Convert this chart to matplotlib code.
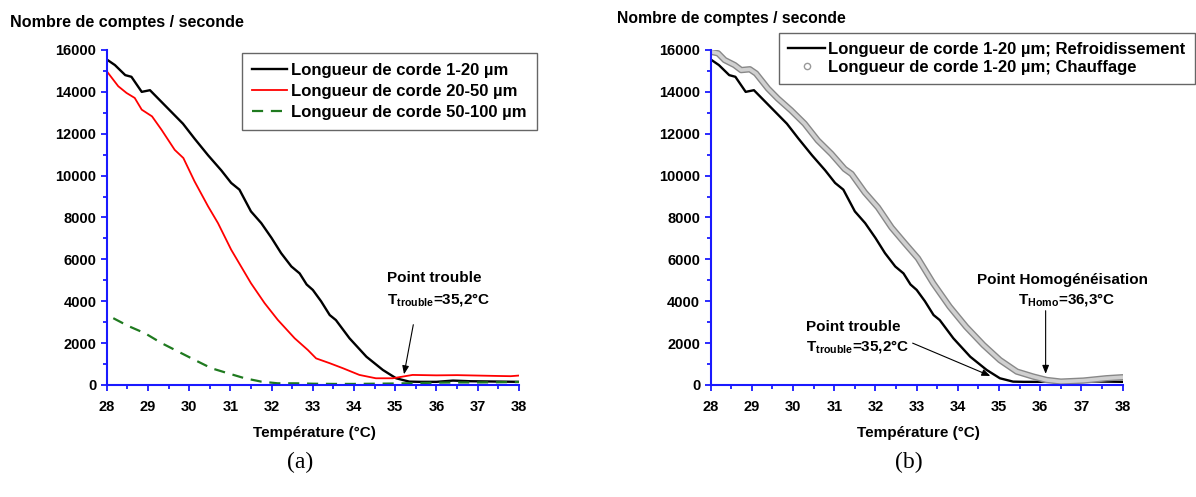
import matplotlib
matplotlib.use('Agg')
import matplotlib.pyplot as plt
from matplotlib.lines import Line2D
from matplotlib.ticker import MultipleLocator
import matplotlib.patheffects as pe

plt.rcParams['font.family'] = ['Liberation Sans', 'DejaVu Sans']
plt.rcParams['mathtext.fontset'] = 'custom'
plt.rcParams['mathtext.rm'] = 'Liberation Sans:bold'
plt.rcParams['mathtext.default'] = 'rm'

# Longueur de corde 1-20 um, refroidissement (meme courbe sur (a) et (b))
noir_t = [28.0, 28.2, 28.45, 28.6, 28.85, 29.05, 29.33, 29.57, 29.85, 30.13, 30.46, 30.78,
          31.02, 31.22, 31.5, 31.75, 32.0, 32.23, 32.48, 32.68, 32.85, 33.0, 33.2, 33.41,
          33.56, 33.89, 34.3, 34.7, 35.02, 35.34, 35.6, 36.0, 36.4, 36.8, 37.2, 37.6, 38.0]
noir_n = [15550, 15280, 14800, 14720, 14000, 14080, 13520, 13040, 12480, 11770, 10970, 10250,
          9650, 9330, 8290, 7730, 7020, 6300, 5660, 5330, 4800, 4540, 4000, 3340,
          3100, 2230, 1350, 716, 320, 160, 150, 150, 210, 180, 170, 160, 150]

# Longueur de corde 20-50 um
rouge_t = [28.0, 28.28, 28.48, 28.68, 28.85, 29.1, 29.33, 29.65, 29.86, 30.13, 30.46, 30.7,
           31.02, 31.26, 31.5, 31.83, 32.15, 32.56, 32.88, 33.08, 33.41, 33.73, 34.13, 34.53,
           34.94, 35.18, 35.42, 36.0, 36.5, 37.0, 37.5, 37.8, 38.0]
rouge_n = [14990, 14270, 13950, 13710, 13150, 12830, 12190, 11230, 10840, 9730, 8530, 7730,
           6460, 5660, 4860, 3910, 3110, 2230, 1670, 1270, 1040, 800, 480, 320,
           320, 400, 480, 460, 470, 450, 430, 420, 450]

# Longueur de corde 50-100 um
vert_t = [28.16, 28.52, 28.93, 29.33, 29.73, 30.13, 30.54, 30.94, 31.35, 31.75, 32.15, 32.6,
          33.0, 33.5, 34.0, 34.5, 35.0, 35.5, 36.0, 36.5, 37.0, 37.5, 38.0]
vert_n = [3190, 2820, 2470, 2000, 1600, 1200, 800, 560, 320, 160, 80, 80,
          60, 50, 50, 60, 70, 90, 110, 120, 120, 130, 140]

# Longueur de corde 1-20 um, chauffage
chauf_t = [28.0, 28.18, 28.34, 28.58, 28.74, 28.95, 29.1, 29.39, 29.63, 29.95, 30.28, 30.6,
           30.93, 31.25, 31.42, 31.74, 32.06, 32.39, 32.7, 33.03, 33.4, 33.8, 34.2, 34.62,
           35.02, 35.43, 35.83, 36.15, 36.5, 37.05, 37.6, 38.0]
chauf_n = [15920, 15840, 15520, 15280, 15040, 15080, 14880, 14160, 13680, 13120, 12480, 11680,
           11040, 10320, 10080, 9200, 8480, 7520, 6800, 6050, 4860, 3740, 2780, 1910,
           1190, 640, 400, 240, 160, 210, 320, 370]

bleu = '#1a1aff'


def style_axe(ax):
    ax.set_xlim(28, 38)
    ax.set_ylim(0, 16000)
    ax.spines['top'].set_visible(False)
    ax.spines['right'].set_visible(False)
    for s in ['left', 'bottom']:
        ax.spines[s].set_color(bleu)
        ax.spines[s].set_linewidth(1.5)
    ax.xaxis.set_major_locator(MultipleLocator(1))
    ax.xaxis.set_minor_locator(MultipleLocator(0.5))
    ax.yaxis.set_major_locator(MultipleLocator(2000))
    ax.yaxis.set_minor_locator(MultipleLocator(1000))
    ax.tick_params(which='both', direction='out', color=bleu, width=1.3)
    ax.tick_params(which='major', length=4.5, labelsize=10.5)
    ax.tick_params(which='minor', length=3)
    ax.tick_params(axis='x', which='major', pad=6)
    ax.tick_params(axis='y', which='major', pad=3)
    for lab in ax.get_xticklabels() + ax.get_yticklabels():
        lab.set_fontweight('bold')
    ax.patch.set_visible(False)


fig = plt.figure(figsize=(11.96, 4.97), dpi=100)

# (a)
ax1 = fig.add_axes([0.0892, 0.2254, 0.3447, 0.674])
ax1.plot(noir_t, noir_n, color='black', lw=1.7, label='Longueur de corde 1-20 µm')
ax1.plot(rouge_t, rouge_n, color='#ff0000', lw=1.3, label='Longueur de corde 20-50 µm')
ax1.plot(vert_t, vert_n, color='#1f7a1f', lw=1.6, ls=(0, (5, 3.5)), label='Longueur de corde 50-100 µm')
style_axe(ax1)
leg1 = ax1.legend(loc='upper left', bbox_to_anchor=(242 / 1196, 1 - 53 / 497), bbox_transform=fig.transFigure,
                  fancybox=False, edgecolor='#666666', framealpha=1, handlelength=2.1, handletextpad=0.25,
                  prop={'size': 12, 'weight': 'bold'}, labelspacing=0.35, borderpad=0.6, borderaxespad=0)
leg1.get_frame().set_linewidth(1.0)
ax1.text(34.8, 5110, 'Point trouble', fontsize=11, fontweight='bold', ha='left', va='center')
ax1.text(34.8, 4060, 'T$_{trouble}$=35,2°C', fontsize=11, fontweight='bold', ha='left', va='center')
ax1.annotate('', xy=(35.2, 380), xytext=(35.45, 3010),
             arrowprops=dict(arrowstyle='-|>,head_length=0.5,head_width=0.2', color='black', lw=0.8))

# (b)
ax2 = fig.add_axes([0.5942, 0.2254, 0.3445, 0.674])
ax2.plot(noir_t, noir_n, color='black', lw=1.7)
ax2.plot(chauf_t, chauf_n, color='#d0d0d0', lw=2.6, solid_capstyle='round',
         path_effects=[pe.Stroke(linewidth=4.6, foreground='#888888'), pe.Normal()])
style_axe(ax2)
h_noir = Line2D([], [], color='black', lw=1.7)
h_chauf = Line2D([], [], ls='none', marker='o', markersize=4.5, markerfacecolor='none',
                 markeredgecolor='#999999', markeredgewidth=1.0)
leg2 = ax2.legend([h_noir, h_chauf],
                  ['Longueur de corde 1-20 µm; Refroidissement', 'Longueur de corde 1-20 µm; Chauffage'],
                  loc='upper left', bbox_to_anchor=(779 / 1196, 1 - 33 / 497), bbox_transform=fig.transFigure,
                  fancybox=False, edgecolor='#666666', framealpha=1, handlelength=2.2, handletextpad=0.2,
                  prop={'size': 12, 'weight': 'bold'}, labelspacing=0.17, borderpad=0.55, borderaxespad=0)
leg2.get_frame().set_linewidth(1.0)
ax2.text(30.31, 2770, 'Point trouble', fontsize=11, fontweight='bold', ha='left', va='center')
ax2.text(30.31, 1815, 'T$_{trouble}$=35,2°C', fontsize=11, fontweight='bold', ha='left', va='center')
ax2.annotate('', xy=(34.85, 380), xytext=(32.84, 2050),
             arrowprops=dict(arrowstyle='-|>,head_length=0.5,head_width=0.2', color='black', lw=0.8))
ax2.text(34.46, 5015, 'Point Homogénéisation', fontsize=11, fontweight='bold', ha='left', va='center')
ax2.text(35.46, 4060, 'T$_{Homo}$=36,3°C', fontsize=11, fontweight='bold', ha='left', va='center')
ax2.annotate('', xy=(36.13, 400), xytext=(36.13, 3680),
             arrowprops=dict(arrowstyle='-|>,head_length=0.5,head_width=0.2', color='black', lw=0.8))

# titres des axes
fig.text(10 / 1196, 1 - 22 / 497, 'Nombre de comptes / seconde', fontsize=11.6, fontweight='bold',
         ha='left', va='center')
fig.text(617 / 1196, 1 - 19 / 497, 'Nombre de comptes / seconde', fontsize=11.3, fontweight='bold',
         ha='left', va='center')
fig.text(314 / 1196, 1 - 433 / 497, 'Température (°C)', fontsize=11, fontweight='bold',
         ha='center', va='center')
fig.text(918 / 1196, 1 - 433 / 497, 'Température (°C)', fontsize=11, fontweight='bold',
         ha='center', va='center')
fig.text(300 / 1196, 1 - 462 / 497, '(a)', fontsize=17, family='Liberation Serif', ha='center', va='center')
fig.text(909 / 1196, 1 - 462 / 497, '(b)', fontsize=17, family='Liberation Serif', ha='center', va='center')

fig.savefig('out.png', dpi=100)
